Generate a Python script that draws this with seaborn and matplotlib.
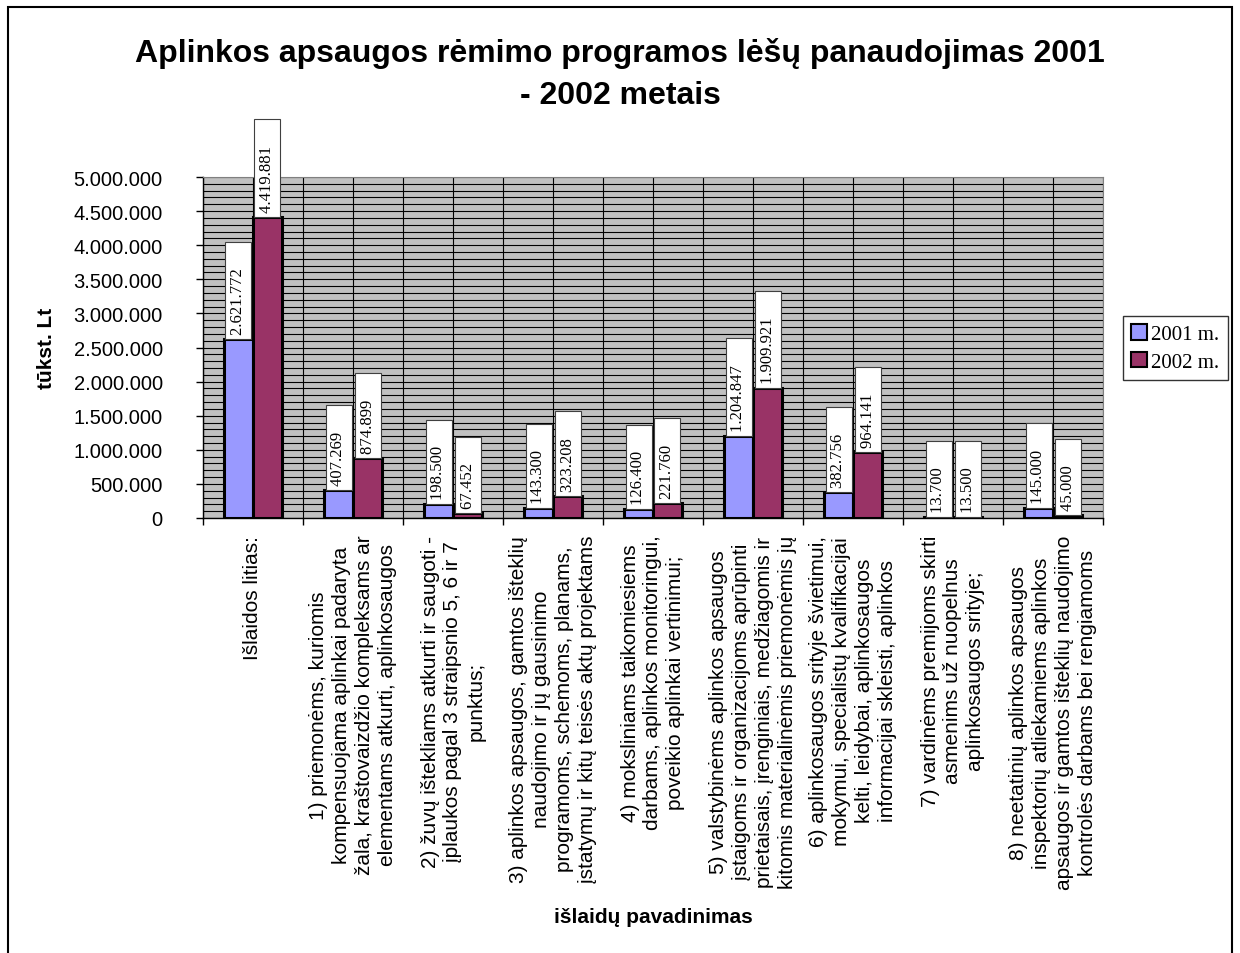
import numpy as np
import pandas as pd
import matplotlib
matplotlib.use("Agg")
import matplotlib.pyplot as plt
from matplotlib.patches import Patch, Rectangle
from matplotlib.ticker import FuncFormatter, MultipleLocator
import seaborn as sns

# išlaidų kategorijos (eilutės kaip originale)
categories = [
    "Išlaidos litias:",
    "1) priemonėms, kuriomis\nkompensuojama aplinkai padaryta\nžala, kraštovaizdžio kompleksams ar\nelementams atkurti, aplinkosaugos",
    "2) žuvų ištekliams atkurti ir saugoti -\nįplaukos pagal 3 straipsnio 5, 6 ir 7\npunktus;",
    "3) aplinkos apsaugos, gamtos išteklių\nnaudojimo ir jų gausinimo\nprogramoms, schemoms, planams,\nįstatymų ir kitų teisės aktų projektams",
    "4) moksliniams taikomiesiems\ndarbams, aplinkos monitoringui,\npoveikio aplinkai vertinimui;",
    "5) valstybinėms aplinkos apsaugos\nįstaigoms ir organizacijoms aprūpinti\nprietaisais, įrenginiais, medžiagomis ir\nkitomis materialinėmis priemonėmis jų",
    "6) aplinkosaugos srityje švietimui,\nmokymui, specialistų kvalifikacijai\nkelti, leidybai, aplinkosaugos\ninformacijai skleisti, aplinkos",
    "7) vardinėms premijoms skirti\nasmenims už nuopelnus\naplinkosaugos srityje;",
    "8) neetatinių aplinkos apsaugos\ninspektorių atliekamiems aplinkos\napsaugos ir gamtos išteklių naudojimo\nkontrolės darbams bei rengiamoms",
]
years = ["2001 m.", "2002 m."]
values_2001 = [2621772, 407269, 198500, 143300, 126400, 1204847, 382756, 13700, 145000]
values_2002 = [4419881, 874899, 67452, 323208, 221760, 1909921, 964141, 13500, 45000]
colors = ["#9999FF", "#993366"]

title = "Aplinkos apsaugos rėmimo programos lėšų panaudojimas 2001\n- 2002 metais"

df = pd.DataFrame({
    "kategorija": categories * 2,
    "metai": [years[0]] * len(categories) + [years[1]] * len(categories),
    "suma": values_2001 + values_2002,
})

plt.rcParams["font.family"] = ["Liberation Sans", "DejaVu Sans"]

fig = plt.figure(figsize=(12.4, 9.54), dpi=100)
ax = fig.add_axes([203 / 1240, 1 - 519 / 954, 900 / 1240, 341 / 954])

sns.barplot(data=df, x="kategorija", y="suma", hue="metai", order=categories,
            palette=colors, width=0.58, saturation=1, edgecolor="black",
            linewidth=2.2, legend=False, ax=ax)

ax.set_facecolor("#C0C0C0")
ax.set_xlim(-0.5, 8.5)
ax.set_ylim(0, 5000000)
ax.yaxis.set_major_locator(MultipleLocator(500000))
ax.yaxis.set_minor_locator(MultipleLocator(100000))
ax.yaxis.set_major_formatter(FuncFormatter(lambda v, p: f"{v:,.0f}".replace(",", ".")))
ax.set_xticks(np.arange(len(categories)))
ax.set_xticks(np.arange(-0.5, len(categories), 1), minor=True)
ax.set_xticklabels([])
ax.grid(True, which="both", color="black", linewidth=0.8)
ax.set_axisbelow(True)
ax.tick_params(axis="x", which="major", length=0)
ax.tick_params(axis="x", which="minor", length=5, width=1, color="black")
ax.tick_params(axis="y", which="major", length=5, width=1, pad=24, labelsize=14.5)
ax.tick_params(axis="y", which="minor", length=0)
for s in ["left", "bottom"]:
    ax.spines[s].set_color("black")
    ax.spines[s].set_linewidth(1)
for s in ["top", "right"]:
    ax.spines[s].set_color("#808080")

# kategorijų pavadinimai po ašimi (vertikaliai, eilutės centruotos)
for i, lab in enumerate(categories):
    ax.annotate(lab, xy=(i, 0), xycoords=ax.get_xaxis_transform(),
                xytext=(0, -12), textcoords="offset points",
                rotation=90, ha="center", va="top", multialignment="center",
                fontsize=15, linespacing=1.25, annotation_clip=False)

ax.set_ylabel("tūkst. Lt", fontsize=15, fontweight="bold")
ax.yaxis.set_label_coords(-0.163, 0.5)
ax.set_xlabel("išlaidų pavadinimas", fontsize=15, fontweight="bold")
ax.xaxis.set_label_coords(0.5, -1.141)

# reikšmių etiketės baltuose rėmeliuose
for cont, vals in zip(ax.containers, [values_2001, values_2002]):
    for bar, v in zip(cont, vals):
        ax.annotate(f"{v:,}".replace(",", ".") + "     ",
                    xy=(bar.get_x() + bar.get_width() / 2, bar.get_height()),
                    xytext=(0, 3.6), textcoords="offset points",
                    rotation=90, ha="center", va="bottom", fontsize=12,
                    family=["Liberation Serif"], annotation_clip=False,
                    bbox=dict(boxstyle="square,pad=0.3", fc="white", ec="#404040", lw=0.8))

fig.text(0.5, 1 - 38 / 954, title, ha="center", va="top", fontsize=23,
         fontweight="bold", linespacing=1.5)

handles = [Patch(facecolor=c, edgecolor="black", linewidth=1.5) for c in colors]
leg = fig.legend(handles, years, loc="center left",
                 bbox_to_anchor=(1123 / 1240, 1 - 349 / 954),
                 prop={"family": "Liberation Serif", "size": 15},
                 frameon=True, fancybox=False, edgecolor="black",
                 handlelength=0.75, handleheight=0.75, handletextpad=0.2,
                 borderpad=0.4, labelspacing=0.35, borderaxespad=0)
leg.get_frame().set_linewidth(1)

fig.add_artist(Rectangle((8 / 1240, -0.01), 1224 / 1240, 1 - 8 / 954 + 0.01,
                         transform=fig.transFigure, fill=False, ec="black", lw=1.5))

fig.savefig("out.png", dpi=100)
